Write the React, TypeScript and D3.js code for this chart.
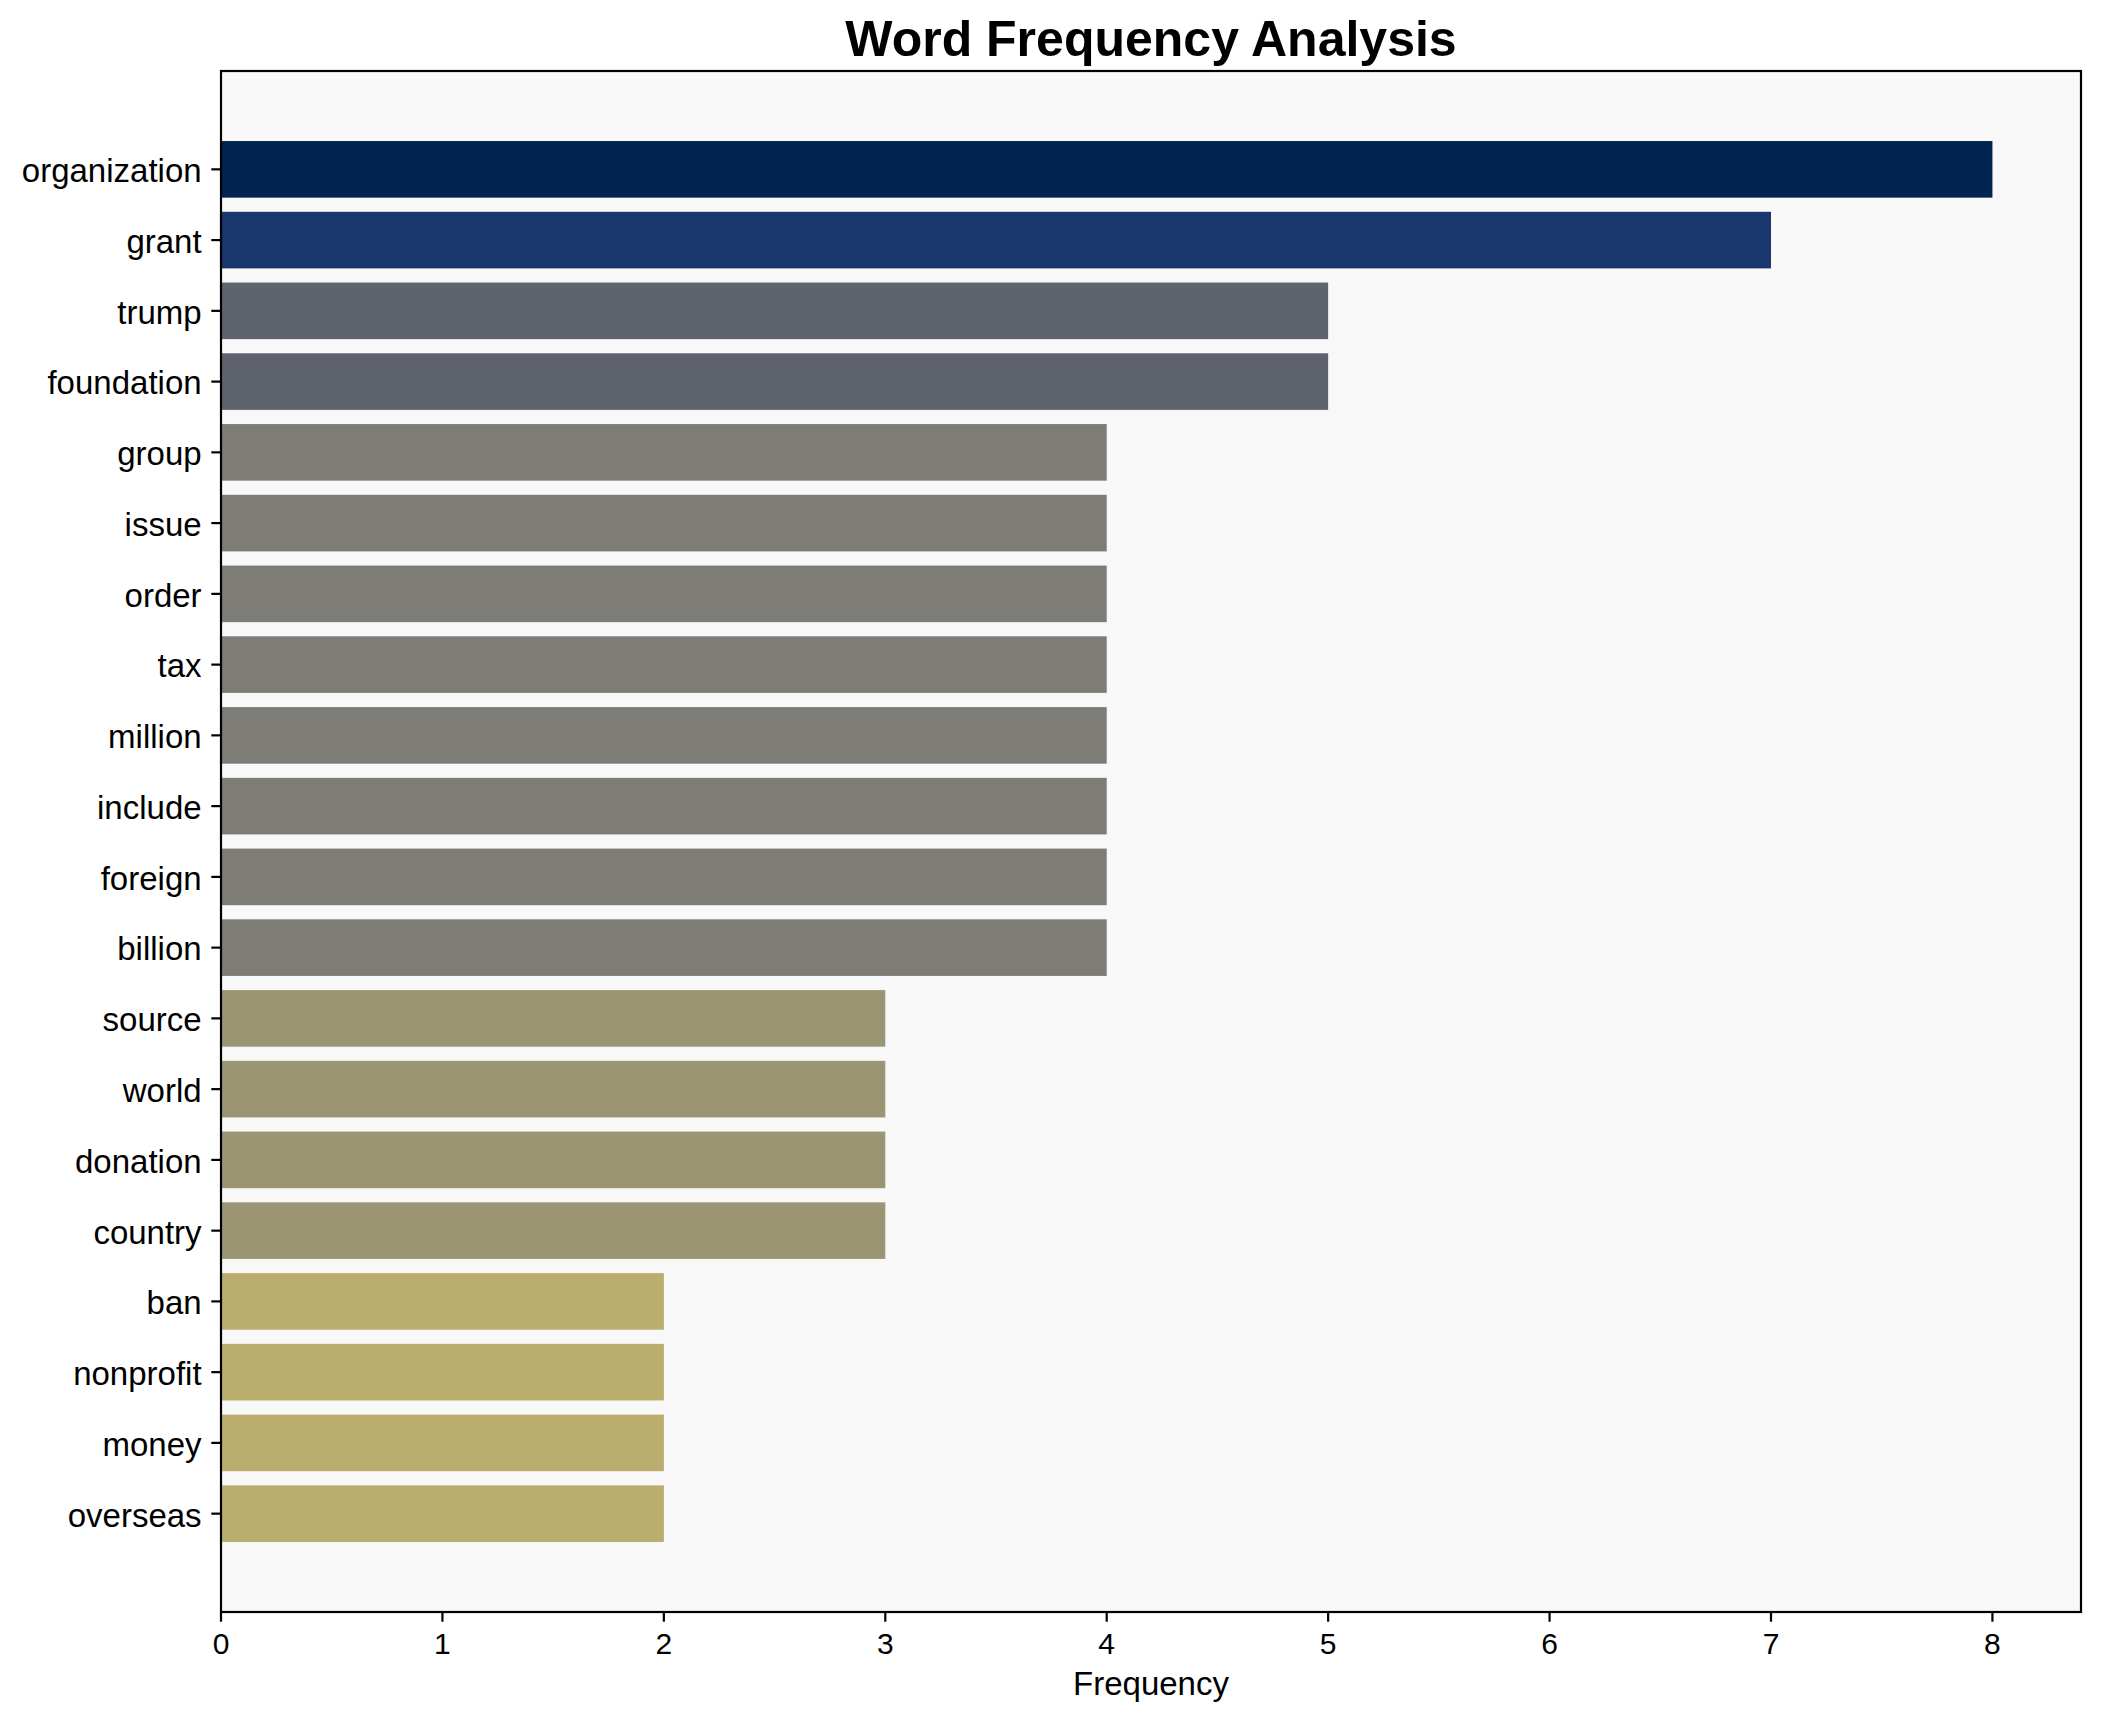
import React from "react";
import * as d3 from "d3";

const words = ["organization","grant","trump","foundation","group","issue","order","tax","million","include","foreign","billion","source","world","donation","country","ban","nonprofit","money","overseas"];
const counts = [8,7,5,5,4,4,4,4,4,4,4,4,3,3,3,3,2,2,2,2];
const xTicks = [0,1,2,3,4,5,6,7,8];
const countValues = [8,7,5,4,3,2];
const countColors = ["#00234f","#1a376d","#5f636e","#7d7c77","#9c9574","#bbad6e"];

const W = 2101, H = 1722;
const L = 221, R = 2081, T = 71, B = 1612;
const FONT = "'Liberation Sans', Arial, Helvetica, sans-serif";

export default function App() {
  const x = d3.scaleLinear().domain([0, 8.4]).range([L, R]);
  const n = words.length;
  const margin = 0.05 * (n - 1 + 0.8);
  const y = d3.scaleLinear().domain([-0.4 - margin, n - 1 + 0.4 + margin]).range([T, B]);
  const color = d3.scaleOrdinal<number, string>().domain(countValues).range(countColors);
  return (
    <svg width={W} height={H} style={{ position: "absolute", left: 0, top: 0, background: "#fff" }} fontFamily={FONT}>
      <rect x={0} y={0} width={W} height={H} fill="#ffffff" />
      <rect x={L} y={T} width={R - L} height={B - T} fill="#f8f8f8" />
      {words.map((w, i) => (
        <rect key={w} x={x(0)} y={y(i - 0.4)} width={x(counts[i]) - x(0)} height={y(i + 0.4) - y(i - 0.4)} fill={color(counts[i])} />
      ))}
      {words.map((w, i) => (
        <g key={"t" + w}>
          <line x1={L - 9.7} x2={L} y1={y(i)} y2={y(i)} stroke="#000" strokeWidth={2.2} />
          <text x={L - 19.4} y={y(i)} dy="0.39em" textAnchor="end" fontSize={33} fill="#000">{w}</text>
        </g>
      ))}
      {xTicks.map((t) => (
        <g key={"x" + t}>
          <line x1={x(t)} x2={x(t)} y1={B} y2={B + 9.7} stroke="#000" strokeWidth={2.2} />
          <text x={x(t)} y={1654} textAnchor="middle" fontSize={30} fill="#000">{t}</text>
        </g>
      ))}
      <rect x={L} y={T} width={R - L} height={B - T} fill="none" stroke="#000" strokeWidth={2.2} />
      <text x={(L + R) / 2} y={1695} textAnchor="middle" fontSize={33} fill="#000">Frequency</text>
      <text x={(L + R) / 2} y={56} textAnchor="middle" fontSize={50} fontWeight="bold" fill="#000">Word Frequency Analysis</text>
    </svg>
  );
}
